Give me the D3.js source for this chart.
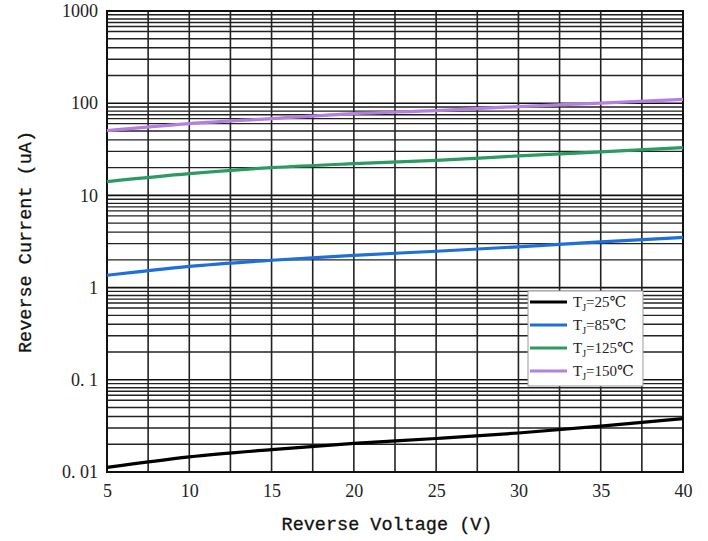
<!DOCTYPE html>
<html><head><meta charset="utf-8">
<script src="https://cdn.jsdelivr.net/npm/d3@7"></script>
<style>body{margin:0;background:#fff}</style>
</head><body>
<svg id="chart" width="708" height="541"></svg>
<script>
const voltages = [5, 10, 15, 20, 25, 30, 35, 40];
const tj25  = [0.0112, 0.0146, 0.0175, 0.0204, 0.0231, 0.0265, 0.0314, 0.038];
const tj85  = [1.36, 1.70, 1.98, 2.24, 2.48, 2.77, 3.14, 3.50];
const tj125 = [14.1, 17.2, 20.0, 22.1, 24.0, 26.8, 29.6, 33.0];
const tj150 = [50.5, 60.0, 68.0, 77.0, 83.0, 92.0, 100.0, 110.0];
const seriesNames = ["25℃", "85℃", "125℃", "150℃"];
const seriesColors = ["#000000", "#1e6fd9", "#2c9a62", "#b57fe0"];
const xTicks = [5, 10, 15, 20, 25, 30, 35, 40];
const xGrid = [5, 7.5, 10, 12.5, 15, 17.5, 20, 22.5, 25, 27.5, 30, 32.5, 35, 37.5, 40];
const yTicks = [0.01, 0.1, 1, 10, 100, 1000];
const yTickLabels = ["0. 01", "0. 1", "1", "10", "100", "1000"];
const gridMultipliers = [2, 3, 4, 5, 6, 6.8, 7.5, 8.2, 9.1];

const svg = d3.select("#chart");
const m = {left: 107, right: 683, top: 11, bottom: 472};
const x = d3.scaleLinear().domain([5, 40]).range([m.left, m.right]);
const y = d3.scaleLog().domain([0.01, 1000]).range([m.bottom, m.top]);

// grid
const g = svg.append("g");
const minor = [];
[0.01, 0.1, 1, 10, 100].forEach(d => gridMultipliers.forEach(k => minor.push(d * k)));
g.selectAll("line.hmin").data(minor).enter().append("line")
  .attr("x1", m.left).attr("x2", m.right)
  .attr("y1", d => y(d)).attr("y2", d => y(d))
  .attr("stroke", "#222").attr("stroke-width", 1.4);
g.selectAll("line.hmaj").data(yTicks).enter().append("line")
  .attr("x1", m.left).attr("x2", m.right)
  .attr("y1", d => y(d)).attr("y2", d => y(d))
  .attr("stroke", "#111").attr("stroke-width", 1.6);
g.selectAll("line.v").data(xGrid).enter().append("line")
  .attr("y1", m.top).attr("y2", m.bottom)
  .attr("x1", d => x(d)).attr("x2", d => x(d))
  .attr("stroke", "#222").attr("stroke-width", 1.6);
svg.append("rect").attr("x", m.left).attr("y", m.top)
  .attr("width", m.right - m.left).attr("height", m.bottom - m.top)
  .attr("fill", "none").attr("stroke", "#111").attr("stroke-width", 2);

// curves
const allSeries = [tj25, tj85, tj125, tj150];
const line = d3.line().x((d, i) => x(voltages[i])).y(d => y(d)).curve(d3.curveMonotoneX);
allSeries.forEach((s, i) => {
  svg.append("path").datum(s).attr("d", line)
    .attr("fill", "none").attr("stroke", seriesColors[i]).attr("stroke-width", 3.2);
});

// axes labels
const tickFont = "'Liberation Serif', 'DejaVu Serif', serif";
const titleFont = "'Liberation Mono', 'DejaVu Sans Mono', monospace";
const yAxis = d3.axisLeft(y).tickValues(yTicks).tickSize(0).tickPadding(9)
  .tickFormat((d, i) => yTickLabels[i]);
const ya = svg.append("g").attr("transform", `translate(${m.left},0)`).call(yAxis);
ya.select(".domain").remove();
ya.selectAll("text").attr("font-family", tickFont).attr("font-size", 18).attr("fill", "#222");

const xAxis = d3.axisBottom(x).tickValues(xTicks).tickSize(0).tickPadding(12).tickFormat(d3.format("d"));
const xa = svg.append("g").attr("transform", `translate(0,${m.bottom})`).call(xAxis);
xa.select(".domain").remove();
xa.selectAll("text").attr("font-family", tickFont).attr("font-size", 18).attr("fill", "#222");

svg.append("text").attr("x", 387).attr("y", 530)
  .attr("text-anchor", "middle").attr("font-family", titleFont).attr("font-size", 18.5)
  .attr("fill", "#111").attr("stroke", "#111").attr("stroke-width", 0.3).text("Reverse Voltage (V)");
svg.append("text").attr("transform", `translate(31,${242}) rotate(-90)`)
  .attr("text-anchor", "middle").attr("font-family", titleFont).attr("font-size", 18.5)
  .attr("fill", "#111").attr("stroke", "#111").attr("stroke-width", 0.3).text("Reverse Current (uA)");

// legend
const lg = svg.append("g");
lg.append("rect").attr("x", 528).attr("y", 291).attr("width", 115).attr("height", 95)
  .attr("fill", "#fff").attr("stroke", "#999").attr("stroke-width", 1);
seriesNames.forEach((n, i) => {
  const yy = 302 + i * 23;
  lg.append("line").attr("x1", 530).attr("x2", 567).attr("y1", yy).attr("y2", yy)
    .attr("stroke", seriesColors[i]).attr("stroke-width", 3);
  const t = lg.append("text").attr("x", 573).attr("y", yy + 5)
    .attr("font-family", "'Liberation Serif', 'DejaVu Serif', serif").attr("font-size", 15).attr("fill", "#222");
  t.append("tspan").text("T");
  t.append("tspan").attr("font-size", 10).attr("dy", 4).text("J");
  t.append("tspan").attr("dy", -4).text("=" + n);
});
</script>
</body></html>
